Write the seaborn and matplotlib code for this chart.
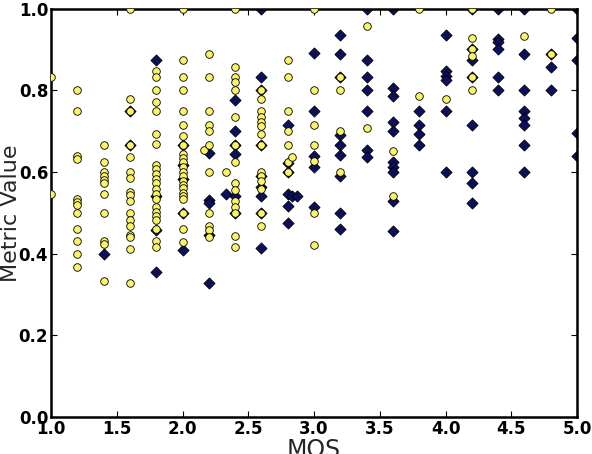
import matplotlib
matplotlib.use("Agg")
import matplotlib.pyplot as plt
import seaborn as sns
import pandas as pd

# Yellow circles (series A)
mos_a = ([1.0] * 2 + [1.2] * 12 + [1.4] * 11 + [1.6] * 17 + [1.8] * 22 + [2.0] * 23 +
         [2.16] + [2.2] * 11 + [2.33] + [2.4] * 15 + [2.6] * 14 + [2.8] * 7 + [2.83] +
         [3.0] * 7 + [3.2] * 4 + [3.4] * 2 + [3.6] * 2 + [3.8] * 2 + [4.0] +
         [4.2] * 6 + [4.6] + [4.8] * 2)
metric_a = [
    0.833, 0.547,
    0.80, 0.75, 0.64, 0.632, 0.534, 0.527, 0.518, 0.50, 0.461, 0.430, 0.40, 0.368,
    0.667, 0.625, 0.60, 0.591, 0.581, 0.572, 0.546, 0.50, 0.431, 0.423, 0.334,
    1.0, 0.778, 0.75, 0.667, 0.636, 0.60, 0.584, 0.55, 0.544, 0.529, 0.50, 0.483, 0.467,
    0.446, 0.44, 0.412, 0.328,
    0.848, 0.833, 0.80, 0.772, 0.75, 0.692, 0.668, 0.618, 0.607, 0.595, 0.583, 0.572,
    0.559, 0.546, 0.533, 0.514, 0.502, 0.491, 0.483, 0.46, 0.432, 0.417,
    1.0, 0.874, 0.833, 0.80, 0.75, 0.714, 0.687, 0.667, 0.644, 0.634, 0.624, 0.613,
    0.60, 0.589, 0.578, 0.569, 0.56, 0.548, 0.54, 0.533, 0.50, 0.461, 0.429,
    0.653,
    0.889, 0.833, 0.75, 0.714, 0.699, 0.667, 0.60, 0.50, 0.467, 0.458, 0.44,
    0.60,
    1.0, 0.856, 0.833, 0.819, 0.80, 0.734, 0.667, 0.624, 0.573, 0.556, 0.529, 0.515,
    0.50, 0.444, 0.417,
    0.80, 0.779, 0.75, 0.734, 0.721, 0.713, 0.692, 0.667, 0.60, 0.591, 0.577, 0.558,
    0.50, 0.467,
    0.874, 0.833, 0.75, 0.701, 0.667, 0.624, 0.60,
    0.637,
    1.0, 0.80, 0.714, 0.667, 0.626, 0.50, 0.422,
    0.833, 0.80, 0.701, 0.60,
    0.957, 0.707,
    0.650, 0.54,
    1.0, 0.785,
    0.778,
    1.0, 0.928, 0.90, 0.883, 0.833, 0.80,
    0.932,
    1.0, 0.889,
]

# Navy diamonds (series B)
mos_b = ([1.4] + [1.6] * 2 + [1.8] * 4 + [2.0] * 5 + [2.2] * 5 + [2.33] + [2.4] * 6 +
         [2.6] * 9 + [2.8] * 6 + [2.83, 2.87] + [3.0] * 5 + [3.2] * 9 + [3.4] * 7 +
         [3.6] * 10 + [3.8] * 4 + [4.0] * 6 + [4.2] * 8 + [4.4] * 6 + [4.6] * 8 +
         [4.8] * 3 + [5.0] * 5)
metric_b = [
    0.40,
    0.75, 0.667,
    0.874, 0.54, 0.457, 0.354,
    0.667, 0.618, 0.583, 0.50, 0.409,
    0.646, 0.532, 0.525, 0.446, 0.328,
    0.547,
    0.777, 0.699, 0.667, 0.645, 0.54, 0.50,
    1.0, 0.833, 0.80, 0.667, 0.589, 0.564, 0.54, 0.50, 0.413,
    0.716, 0.622, 0.60, 0.547, 0.517, 0.476,
    0.54, 0.54,
    0.89, 0.75, 0.638, 0.611, 0.515,
    0.934, 0.889, 0.833, 0.691, 0.667, 0.642, 0.589, 0.50, 0.461,
    1.0, 0.874, 0.833, 0.80, 0.75, 0.654, 0.636,
    1.0, 0.806, 0.785, 0.723, 0.699, 0.624, 0.613, 0.599, 0.528, 0.456,
    0.75, 0.715, 0.693, 0.667,
    0.934, 0.848, 0.835, 0.826, 0.75, 0.60,
    1.0, 0.90, 0.874, 0.833, 0.715, 0.60, 0.572, 0.524,
    1.0, 0.926, 0.917, 0.90, 0.833, 0.80,
    1.0, 0.889, 0.80, 0.75, 0.731, 0.715, 0.667, 0.60,
    0.889, 0.858, 0.80,
    1.0, 0.928, 0.874, 0.695, 0.638,
]

x_ticks = [1.0, 1.5, 2.0, 2.5, 3.0, 3.5, 4.0, 4.5, 5.0]
y_ticks = [0.0, 0.2, 0.4, 0.6, 0.8, 1.0]

df_a = pd.DataFrame({"MOS": mos_a, "Metric": metric_a})
df_b = pd.DataFrame({"MOS": mos_b, "Metric": metric_b})

sns.set_style("white")
plt.rcParams["font.family"] = ["DejaVu Sans"]

fig = plt.figure(figsize=(5.92, 4.54), dpi=100)
ax = fig.add_axes([51 / 592, 1 - 417 / 454, (577 - 51) / 592, (417 - 8.5) / 454])

sns.scatterplot(data=df_b, x="MOS", y="Metric", ax=ax, marker="D", s=32,
                color="#0c0e5e", edgecolor="black", linewidth=0.6, zorder=2)
sns.scatterplot(data=df_a, x="MOS", y="Metric", ax=ax, marker="o", s=30,
                color="#fbf466", edgecolor="black", linewidth=0.6, zorder=3)

ax.set_xlim(1.0, 5.0)
ax.set_ylim(0.0, 1.0)
ax.set_xticks(x_ticks)
ax.set_yticks(y_ticks)
ax.set_xticklabels([f"{t:.1f}" for t in x_ticks], fontweight="bold", fontsize=12)
ax.set_yticklabels([f"{t:.1f}" for t in y_ticks], fontweight="bold", fontsize=12)
ax.tick_params(direction="in", length=4, width=0.8, top=True, right=True,
               bottom=True, left=True, pad=2, colors="black")
for sp in ax.spines.values():
    sp.set_visible(True)
    sp.set_linewidth(1.8)
    sp.set_color("black")
ax.set_xlabel("MOS", fontsize=17, labelpad=0)
ax.set_ylabel("Metric Value", fontsize=16, labelpad=-2)

fig.savefig("out.png", dpi=100)
